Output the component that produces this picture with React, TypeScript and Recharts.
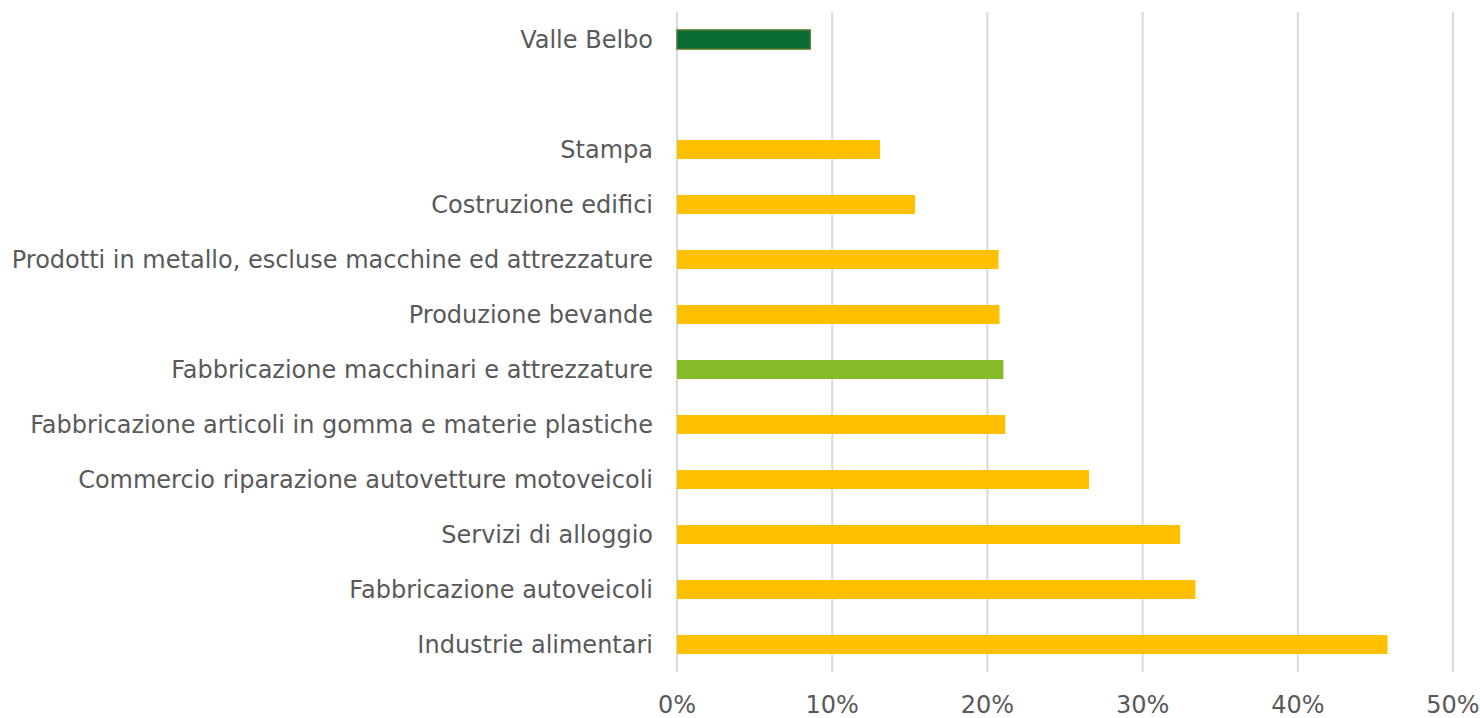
import React from 'react';
import { BarChart, Bar, XAxis, YAxis, CartesianGrid, Cell } from 'recharts';

// Categories top to bottom (the blank row is the gap under Valle Belbo)
const categories = [
    'Valle Belbo',
    ' ',
    'Stampa',
    'Costruzione edifici',
    'Prodotti in metallo, escluse macchine ed attrezzature',
    'Produzione bevande',
    'Fabbricazione macchinari e attrezzature',
    'Fabbricazione articoli in gomma e materie plastiche',
    'Commercio riparazione autovetture motoveicoli',
    'Servizi di alloggio',
    'Fabbricazione autoveicoli',
    'Industrie alimentari',
];

const values = [0.0858, null, 0.1308, 0.1534, 0.2072, 0.2078, 0.2103, 0.2115, 0.2655, 0.3242, 0.3340, 0.4578];

const barColors = ['#0a6a34', '', '#ffc000', '#ffc000', '#ffc000', '#ffc000', '#85bb27', '#ffc000', '#ffc000', '#ffc000', '#ffc000', '#ffc000'];

const xTicks = [0, 0.1, 0.2, 0.3, 0.4, 0.5];

const data = categories.map((name, i) => ({ name, value: values[i] }));

const font = 'Verdana, "DejaVu Sans", sans-serif';

export default function App() {
    return (
        <div style={{ position: 'absolute', left: 0, top: 0, width: 1480, height: 718, background: '#fff', overflow: 'hidden' }}>
            <BarChart
                width={1480}
                height={718}
                data={data}
                layout="vertical"
                margin={{ top: 12, right: 27, bottom: 0, left: 0 }}
                barCategoryGap={0}
            >
                <CartesianGrid horizontal={false} stroke="#d9d9d9" strokeWidth={2} />
                <XAxis
                    type="number"
                    domain={[0, 0.5]}
                    ticks={xTicks}
                    tickFormatter={(v: number) => `${Math.round(v * 100)}%`}
                    axisLine={false}
                    tickLine={false}
                    tickSize={0}
                    tickMargin={24}
                    height={46}
                    tick={{ fill: '#595959', fontSize: 24, fontFamily: font }}
                />
                <YAxis
                    type="category"
                    dataKey="name"
                    width={677}
                    axisLine={false}
                    tickLine={false}
                    tickSize={0}
                    tickMargin={24}
                    interval={0}
                    tick={{ fill: '#595959', fontSize: 24, fontFamily: font }}
                />
                <Bar dataKey="value" barSize={19} isAnimationActive={false}>
                    {data.map((entry, index) => (
                        <Cell
                            key={`cell-${index}`}
                            fill={barColors[index]}
                            stroke={index === 0 ? '#4f7a22' : 'none'}
                            strokeWidth={index === 0 ? 1.5 : 0}
                        />
                    ))}
                </Bar>
            </BarChart>
        </div>
    );
}
